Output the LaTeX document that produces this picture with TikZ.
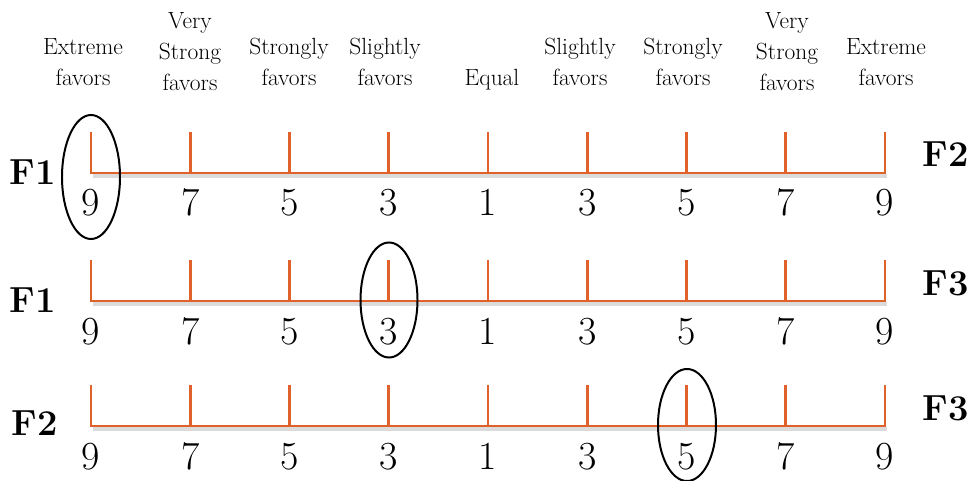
\documentclass[tikz,border=0pt]{standalone}
\usepackage{tikz}
\usetikzlibrary{shapes.geometric}
\definecolor{scaleorange}{HTML}{E0622A}
\tikzset{
  ruler/.style={scaleorange,line width=2.4pt,line cap=butt,line join=miter},
  rulershadow/.style={black!14,line width=3.2pt},
  head/.style={font=\fontsize{20}{26.5}\selectfont,align=center,anchor=south,inner sep=0pt,text depth=0pt},
  num/.style={font=\fontsize{34}{34}\selectfont,anchor=base,inner sep=0pt},
  fac/.style={font=\fontsize{31}{31}\selectfont\bfseries,anchor=base,inner sep=0pt},
  pick/.style={draw,ellipse,line width=1.7pt,inner sep=0pt}
}

\begin{document}
\begin{tikzpicture}[x=0.03cm,y=-0.03cm]
	\useasboundingbox (0,0) rectangle (969,481);
	%% Headers
	\node[head] (h1) at (83,86) {Extreme\\favors};
	\node[head] (h2) at (190,91) {Very\\Strong\\favors};
	\node[head] (h3) at (289,86) {Strongly\\favors};
	\node[head] (h4) at (385,86) {Slightly\\favors};
	\node[head] (h5) at (492,86) {Equal};
	\node[head] (h6) at (580,86) {Slightly\\favors};
	\node[head] (h7) at (683,86) {Strongly\\favors};
	\node[head] (h8) at (787,91) {Very\\Strong\\favors};
	\node[head] (h9) at (886,86) {Extreme\\favors};
	%% Scales
	\foreach \row/\y in {1/173,2/301,3/426}{
		\draw[rulershadow] (93,\y+3) -- (887,\y+3);
		\foreach \v [count=\i from 0] in {9,7,5,3,1,3,5,7,9}{
			\coordinate (t\row-\i) at ({91+99.25*\i},\y);
			\node[num] (n\row-\i) at ({91+99.25*\i},\y+43) {\v};
		}
		\foreach \i in {1,...,7}
			\draw[ruler] (t\row-\i) -- ++(0,-41);
		\draw[ruler] ([yshift=41*0.03cm]t\row-0) -- (t\row-0) -- (t\row-8) -- ([yshift=41*0.03cm]t\row-8);
	}
	%% Factors
	\node[fac] (l1) at (33,185) {F1};
	\node[fac] (r1) at (946,167) {F2};
	\node[fac] (l2) at (33,312) {F1};
	\node[fac] (r2) at (946,295) {F3};
	\node[fac] (l3) at (35,435) {F2};
	\node[fac] (r3) at (946,420) {F3};
	%% Choices
	\node[pick,minimum width=1.74cm,minimum height=3.72cm] (c1) at (91,177) {};
	\node[pick,minimum width=1.71cm,minimum height=3.45cm] (c2) at (389,300) {};
	\node[pick,minimum width=1.74cm,minimum height=3.36cm] (c3) at (687,425) {};
\end{tikzpicture}
\end{document}
